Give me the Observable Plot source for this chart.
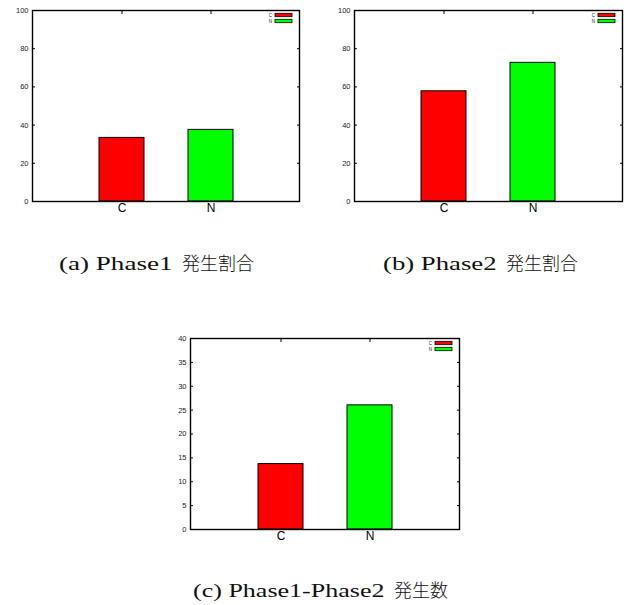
<!DOCTYPE html>
<html>
<head>
<meta charset="utf-8">
<script src="https://cdn.jsdelivr.net/npm/d3@7"></script>
<script src="https://cdn.jsdelivr.net/npm/@observablehq/plot@0.6"></script>
<style>
  body { margin: 0; background: #fff; }
  #fig { position: relative; width: 627px; height: 605px; background: #fff; overflow: hidden; }
  .panel { position: absolute; width: 310px; }
  .panel svg { max-width: none !important; }
  .cap {
    position: absolute;
    font-family: "Liberation Serif", "Noto Sans CJK JP", serif;
    font-size: 19px;
    line-height: 20px;
    color: #111;
    white-space: nowrap;
  }
  .cap .latin { display: inline-block; transform-origin: 0 50%; }
  .cap .jp { font-family: "Noto Sans CJK JP", sans-serif; font-size: 18px; font-weight: 300; }
</style>
</head>
<body>
<div id="fig"></div>
<script>
// Categories and their bar colours
const categories = ["C", "N"];
const seriesColors = ["#ff0000", "#00ff00"];

// Values per panel
const phase1Rate = [33.3, 37.5];     // (a) Phase1 occurrence rate
const phase2Rate = [57.7, 72.6];     // (b) Phase2 occurrence rate
const phase12Count = [13.7, 26];     // (c) Phase1-Phase2 occurrence count

// Tick values
const rateTicks = [0, 20, 40, 60, 80, 100];
const countTicks = [0, 5, 10, 15, 20, 25, 30, 35, 40];

// Captions: Latin part and Japanese part
const captionLatin = ["(a) Phase1", "(b) Phase2", "(c) Phase1-Phase2"];
const captionJapanese = ["発生割合", "発生割合", "発生数"];

const noLabel = () => "";

// Small key in the upper-right corner of each frame
function keyMark() {
  return (index, scales, values, dims) => {
    const g = d3.create("svg:g");
    const right = dims.width - dims.marginRight - 7;
    categories.forEach((c, i) => {
      const y = dims.marginTop + 3.3 + i * 6;
      g.append("rect")
        .attr("x", right - 17).attr("y", y)
        .attr("width", 17).attr("height", 3.4)
        .attr("fill", seriesColors[i])
        .attr("stroke", "black").attr("stroke-width", 0.8);
      g.append("text")
        .attr("x", right - 20).attr("y", y + 1.7)
        .attr("dy", "0.35em")
        .attr("text-anchor", "end")
        .attr("font-size", 4.5)
        .attr("fill", "#222")
        .text(c);
    });
    return g.node();
  };
}

function barPanel(values, yMax, ticks, frameWidth) {
  const rows = categories.map((c, i) => ({cat: c, value: values[i], color: seriesColors[i]}));
  const width = 310;
  return Plot.plot({
    width,
    height: 220,
    marginLeft: 32,
    marginRight: width - 32 - frameWidth,
    marginTop: 10,
    marginBottom: 19,
    style: {fontFamily: "'Liberation Sans', Arial, sans-serif", background: "transparent", overflow: "visible"},
    x: {type: "band", domain: categories, paddingInner: 0.5, paddingOuter: 0.75, axis: null},
    y: {domain: [0, yMax], axis: null},
    color: {type: "identity"},
    marks: [
      Plot.barY(rows, {x: "cat", y: "value", fill: "color", stroke: "black", strokeWidth: 1}),
      Plot.axisY(ticks, {anchor: "left", label: null, tickSize: 0, tickPadding: 4, fontSize: 7.5, fill: "#222"}),
      Plot.axisY(ticks, {anchor: "left", label: null, tickSize: 3, dx: 3, tickFormat: noLabel}),
      Plot.axisY(ticks, {anchor: "right", label: null, tickSize: 3, dx: -3, tickFormat: noLabel}),
      Plot.axisX({anchor: "top", label: null, tickSize: 3, dy: 3, tickFormat: noLabel}),
      Plot.axisX({anchor: "bottom", label: null, tickSize: 0, tickPadding: 2, fontSize: 12, fill: "black"}),
      Plot.frame({stroke: "black", strokeWidth: 1.4}),
      keyMark()
    ]
  });
}

const fig = document.getElementById("fig");

function place(node, left, top) {
  const div = document.createElement("div");
  div.className = "panel";
  div.style.left = left + "px";
  div.style.top = top + "px";
  div.appendChild(node);
  fig.appendChild(div);
}

// Caption spanning [x0, x1]; the Latin part is widened to fill the span
function caption(i, x0, x1, cy) {
  const div = document.createElement("div");
  div.className = "cap";
  div.style.left = x0 + "px";
  div.style.top = (cy - 10) + "px";
  const latin = document.createElement("span");
  latin.className = "latin";
  latin.textContent = captionLatin[i];
  const gap = document.createElement("span");
  gap.textContent = "\u2002";
  const jp = document.createElement("span");
  jp.className = "jp";
  jp.textContent = captionJapanese[i];
  div.append(latin, gap, jp);
  fig.appendChild(div);
  const w = div.getBoundingClientRect().width;
  const wl = latin.getBoundingClientRect().width;
  const extra = (x1 - x0) - w;
  if (extra > 0) {
    latin.style.transform = `scaleX(${(wl + extra) / wl})`;
    latin.style.marginRight = extra + "px";
  }
}

place(barPanel(phase1Rate, 100, rateTicks, 267), 0, 0);
place(barPanel(phase2Rate, 100, rateTicks, 268), 322, 0);
place(barPanel(phase12Count, 40, countTicks, 269), 158, 328);

caption(0, 59, 254, 262);
caption(1, 383, 578, 262);
caption(2, 193, 448, 589);
</script>
</body>
</html>
